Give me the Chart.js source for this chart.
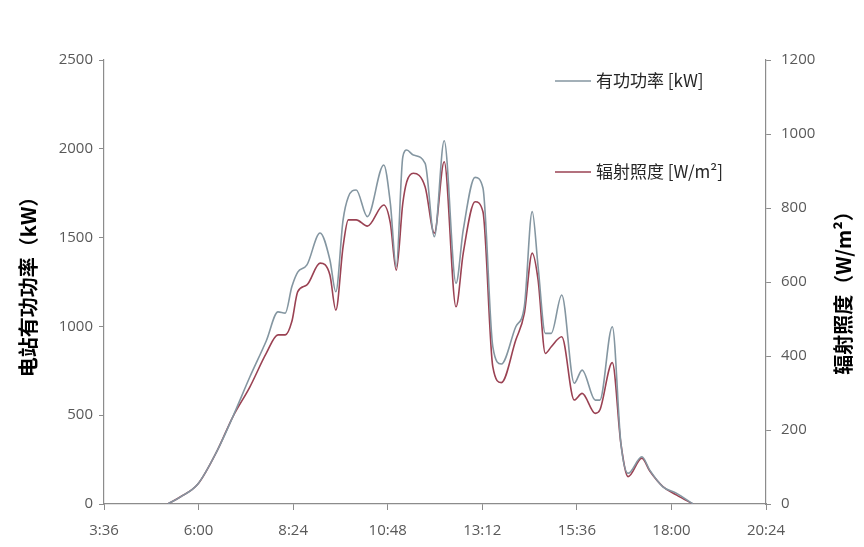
<!DOCTYPE html>
<html>
<head>
<meta charset="utf-8">
<script src="https://cdn.jsdelivr.net/npm/chart.js@4"></script>
<style>
  html, body { margin: 0; padding: 0; background: #fff; }
  #wrap { width: 864px; height: 547px; }
</style>
</head>
<body>
<div id="wrap"><canvas id="c" width="864" height="547"></canvas></div>
<script>
// readings (time of day, kW, W/m2)
const times = ["5:13","5:32","5:59","6:28","6:52","7:18","7:43","8:01","8:12","8:22","8:31","8:45","9:05","9:20","9:29","9:40","9:48","10:00","10:17","10:42","10:52","11:01","11:11","11:17","11:27","11:45","11:59","12:14","12:32","12:43","13:01","13:13","13:28","13:41","14:03","14:16","14:28","14:37","14:48","14:57","15:13","15:32","15:44","16:04","16:11","16:30","16:43","16:54","17:15","17:27","17:47","18:08","18:33"];
const power = [0,39,113,298,490,715,918,1082,1075,1223,1306,1346,1526,1374,1195,1599,1729,1768,1618,1909,1693,1336,1955,1993,1965,1918,1505,2045,1243,1543,1839,1779,886,788,998,1111,1646,1336,961,961,1177,680,754,585,585,998,343,173,266,191,97,60,0];
const irradiance = [0,19,54,143,235,316,407,457,457,493,574,592,651,619,524,695,768,768,751,808,759,632,813,871,894,857,732,925,533,678,817,790,371,328,443,515,678,605,407,425,452,281,299,245,254,382,164,74,124,89,47,24,0];
const labels = ["有功功率 [kW]", "辐射照度 [W/m²]"];
const xMin = "3:36", xMax = "20:24", xStep = 144;

const C = { grey: "#8496a1", red: "#9a4253", axis: "#8c8c8c", text: "#595959", dark: "#262626" };
const FONT = "'Open Sans', 'Noto Sans CJK SC', sans-serif";
const CJK = "'Noto Sans CJK SC', 'Open Sans', sans-serif";

const toMin = (t) => { const [h, m] = t.split(":").map(Number); return h * 60 + m; };
const fmt = (v) => Math.floor(v / 60) + ":" + String(Math.round(v % 60)).padStart(2, "0");
const pts = (arr) => times.map((t, i) => ({ x: toMin(t), y: arr[i] }));

// legend drawn inside the plot, two entries far apart like the original
const legendPlugin = {
  id: "vlegend",
  afterDraw(chart) {
    const ctx = chart.ctx;
    const rows = [{ y: 81, c: C.grey, t: labels[0] }, { y: 172, c: C.red, t: labels[1] }];
    ctx.save();
    ctx.font = "17px " + CJK;
    ctx.textBaseline = "middle";
    rows.forEach((r) => {
      ctx.strokeStyle = r.c; ctx.lineWidth = 1.5;
      ctx.beginPath(); ctx.moveTo(555, r.y); ctx.lineTo(591, r.y); ctx.stroke();
      ctx.fillStyle = C.dark; ctx.fillText(r.t, 596, r.y);
    });
    // right axis title, reading bottom-to-top
    ctx.translate(843, 288);
    ctx.rotate(-Math.PI / 2);
    ctx.font = "bold 20px " + CJK;
    ctx.fillStyle = "#000";
    ctx.textAlign = "center";
    ctx.fillText("辐射照度（W/m²）", 0, 0);
    ctx.restore();
  },
};

const line = (data, color, axis) => ({
  data, yAxisID: axis, borderColor: color, borderWidth: 1.6, pointRadius: 0,
  cubicInterpolationMode: "monotone", fill: false,
});

const tickFont = { family: FONT, size: 15 };
const plain = (v) => String(v);

new Chart(document.getElementById("c"), {
  type: "line",
  data: { datasets: [line(pts(power), C.grey, "y"), line(pts(irradiance), C.red, "y2")] },
  options: {
    responsive: false, animation: false,
    layout: { padding: { top: 60, bottom: 0, left: 0, right: 0 } },
    plugins: { legend: { display: false }, tooltip: { enabled: false } },
    scales: {
      x: {
        type: "linear", min: toMin(xMin), max: toMin(xMax),
        grid: { display: true, drawOnChartArea: false, tickLength: 6, color: C.axis },
        border: { color: C.axis, width: 1.2 },
        ticks: { stepSize: xStep, color: C.text, font: tickFont, padding: 12, callback: (v) => fmt(v), maxRotation: 0 },
        afterFit: (s) => { s.height = 43; },
      },
      y: {
        position: "left", min: 0, max: 2500,
        grid: { display: true, drawOnChartArea: false, tickLength: 5, color: C.axis },
        border: { color: C.axis, width: 1.2 },
        ticks: { stepSize: 500, color: C.text, font: tickFont, padding: 6, callback: plain },
        title: { display: true, text: "电站有功功率（kW）", color: "#000", font: { family: CJK, size: 20, weight: "bold" }, padding: { top: 16, bottom: 0 } },
        afterFit: (s) => { s.width = 104; },
      },
      y2: {
        position: "right", min: 0, max: 1200,
        grid: { display: true, drawOnChartArea: false, tickLength: 5, color: C.axis },
        border: { color: C.axis, width: 1.2 },
        ticks: { stepSize: 200, color: C.text, font: tickFont, padding: 10, callback: plain },
        afterFit: (s) => { s.width = 98; },
      },
    },
  },
  plugins: [legendPlugin],
});
</script>
</body>
</html>
